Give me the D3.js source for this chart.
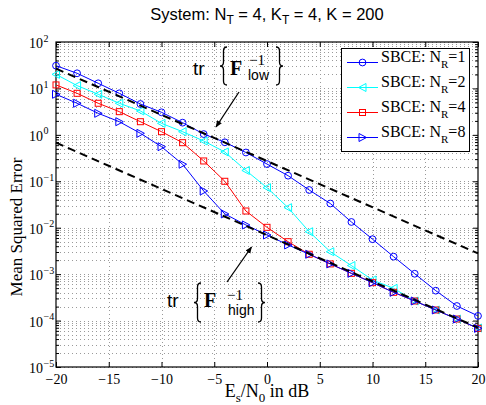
<!DOCTYPE html>
<html>
<head>
<meta charset="utf-8">
<script src="https://cdn.jsdelivr.net/npm/d3@7"></script>
<style>
body { margin: 0; background: #fff; }
svg { display: block; }
</style>
</head>
<body>
<svg id="chart"></svg>
<script>
// Es/N0 in dB
const snrDb = [-20, -18, -16, -14, -12, -10, -8, -6, -4, -2, 0, 2, 4, 6, 8, 10, 12, 14, 16, 18, 20];

// MSE per number of receive antennas
const mseNr1 = [30.9, 21.2, 12.9, 7.85, 4.62, 3.06, 1.83, 1.04, 0.692, 0.417, 0.235, 0.132, 0.0649, 0.0332, 0.0133, 0.00566, 0.00238, 0.00102, 0.00044, 0.000206, 0.000126];
const mseNr2 = [20.1, 11.5, 7.48, 4.79, 3.27, 1.77, 1.17, 0.738, 0.428, 0.171, 0.0728, 0.027, 0.0082, 0.00304, 0.00153, 0.000748, 0.000495, 0.000264, 0.000169, 0.000108, 0.000069];
const mseNr4 = [11.9, 7.85, 4.79, 3.16, 1.92, 1.17, 0.678, 0.274, 0.1, 0.0229, 0.0102, 0.005, 0.00268, 0.00166, 0.00104, 0.000655, 0.000406, 0.000264, 0.000169, 0.000108, 0.000068];
const mseNr8 = [7.48, 4.79, 2.91, 1.92, 1.08, 0.556, 0.233, 0.0618, 0.0198, 0.01146, 0.00697, 0.00425, 0.00268, 0.00166, 0.00104, 0.000655, 0.000406, 0.000264, 0.000169, 0.000108, 0.000068];

// bound lines (straight on this plot), end points only
const boundSnr = [-20, 20];
const boundLow = [26.7, 0.00279];
const boundHigh = [0.678, 0.0000706];

const xTicks = [-20, -15, -10, -5, 0, 5, 10, 15, 20];
const yTickExps = [-5, -4, -3, -2, -1, 0, 1, 2];
const legendNr = ["1", "2", "4", "8"];

const width = 486;
const height = 405;
const pLeft = 56, pRight = 478, pTop = 42, pBottom = 367;

const serif = "'Liberation Serif', 'Times New Roman', serif";
const sans = "'Liberation Sans', Arial, Helvetica, sans-serif";

let svg = d3.select("#chart")
    .attr("width", width)
    .attr("height", height);

const scX = d3.scaleLinear().domain([-20, 20]).range([pLeft, pRight]);
const scY = d3.scaleLog().domain([1e-5, 1e2]).range([pBottom, pTop]);

// grid
const grid = svg.append("g")
    .attr("stroke", "#9a9a9a")
    .attr("stroke-width", 1)
    .attr("stroke-dasharray", "1,3");

grid.selectAll(".hgrid")
    .data(scY.ticks())
    .enter().append("line")
    .attr("x1", pLeft).attr("x2", pRight)
    .attr("y1", d => Math.round(scY(d)) + 0.5)
    .attr("y2", d => Math.round(scY(d)) + 0.5);

grid.selectAll(".vgrid")
    .data(xTicks.slice(1, -1))
    .enter().append("line")
    .attr("y1", pTop).attr("y2", pBottom)
    .attr("x1", d => Math.round(scX(d)) + 0.5)
    .attr("x2", d => Math.round(scX(d)) + 0.5);

// axes, ticks pointing inward
function noDomain(g) { g.select(".domain").remove(); }

svg.append("g")
    .attr("transform", `translate(0, ${pBottom})`)
    .call(d3.axisBottom(scX).tickValues(xTicks).tickSize(-5).tickPadding(7))
    .call(noDomain)
    .call(g => g.selectAll("text").style("font", `14px ${serif}`).attr("fill", "#000"));

svg.append("g")
    .attr("transform", `translate(0, ${pTop})`)
    .call(d3.axisTop(scX).tickValues(xTicks).tickSize(-5).tickFormat(""))
    .call(noDomain);

const majorY = yTickExps.map(e => Math.pow(10, e));
const minorY = scY.ticks().filter(d => !majorY.some(m => Math.abs(m - d) / m < 1e-6));

svg.append("g")
    .attr("transform", `translate(${pLeft}, 0)`)
    .call(d3.axisLeft(scY).tickValues(majorY).tickSize(-5).tickFormat(""))
    .call(noDomain);
svg.append("g")
    .attr("transform", `translate(${pLeft}, 0)`)
    .call(d3.axisLeft(scY).tickValues(minorY).tickSize(-3).tickFormat(""))
    .call(noDomain);
svg.append("g")
    .attr("transform", `translate(${pRight}, 0)`)
    .call(d3.axisRight(scY).tickValues(majorY).tickSize(-5).tickFormat(""))
    .call(noDomain);
svg.append("g")
    .attr("transform", `translate(${pRight}, 0)`)
    .call(d3.axisRight(scY).tickValues(minorY).tickSize(-3).tickFormat(""))
    .call(noDomain);

// y tick labels 10^n
const yLab = svg.append("g").style("font-family", serif).attr("fill", "#000");
yTickExps.forEach(e => {
    let y = scY(Math.pow(10, e));
    yLab.append("text")
        .attr("x", 43).attr("y", y + 6)
        .attr("text-anchor", "end")
        .style("font-size", "14px")
        .text("10");
    yLab.append("text")
        .attr("x", 43.5).attr("y", y - 0.5)
        .style("font-size", "10px")
        .text(e < 0 ? "\u2212" + (-e) : String(e));
});

// box
svg.append("rect")
    .attr("x", pLeft).attr("y", pTop)
    .attr("width", pRight - pLeft).attr("height", pBottom - pTop)
    .attr("fill", "none")
    .attr("stroke", "#000")
    .attr("stroke-width", 1.2);

// markers
function marker(g, shape, x, y, color) {
    if (shape == "circle") {
        g.append("circle").attr("cx", x).attr("cy", y).attr("r", 3.4)
            .attr("fill", "none").attr("stroke", color);
    } else if (shape == "square") {
        g.append("rect").attr("x", x - 3).attr("y", y - 3).attr("width", 6).attr("height", 6)
            .attr("fill", "none").attr("stroke", color);
    } else {
        let s = shape == "left" ? -1 : 1;
        g.append("path")
            .attr("d", `M${x + 4 * s},${y} L${x - 3.5 * s},${y - 4} L${x - 3.5 * s},${y + 4} Z`)
            .attr("fill", "none").attr("stroke", color);
    }
}

const series = [
    {nr: legendNr[0], values: mseNr1, color: "#0000ff", shape: "circle"},
    {nr: legendNr[1], values: mseNr2, color: "#00ffff", shape: "left"},
    {nr: legendNr[2], values: mseNr4, color: "#ff0000", shape: "square"},
    {nr: legendNr[3], values: mseNr8, color: "#0000ff", shape: "right"}
];

const line = d3.line().x(d => scX(d[0])).y(d => scY(d[1]));

series.forEach(s => {
    let pts = snrDb.map((x, i) => [x, s.values[i]]);
    let g = svg.append("g");
    g.append("path")
        .attr("d", line(pts))
        .attr("fill", "none")
        .attr("stroke", s.color)
        .attr("stroke-width", 1);
    pts.forEach(p => marker(g, s.shape, scX(p[0]), scY(p[1]), s.color));
});

[boundLow, boundHigh].forEach(b => {
    svg.append("path")
        .attr("d", line(boundSnr.map((x, i) => [x, b[i]])))
        .attr("fill", "none")
        .attr("stroke", "#000")
        .attr("stroke-width", 2)
        .attr("stroke-dasharray", "8,5");
});

// legend
const lg = svg.append("g");
lg.append("rect")
    .attr("x", 341.5).attr("y", 48.5).attr("width", 128).attr("height", 103)
    .attr("fill", "#fff").attr("stroke", "#000").attr("stroke-width", 1);
series.forEach((s, i) => {
    let y = 62.5 + i * 25;
    lg.append("line").attr("x1", 347).attr("x2", 378).attr("y1", y).attr("y2", y)
        .attr("stroke", s.color).attr("stroke-width", 1);
    marker(lg, s.shape, 362.5, y, s.color);
    let t = lg.append("text").attr("x", 381).attr("y", y - 1)
        .style("font", `16px ${serif}`).attr("fill", "#000");
    t.append("tspan").text("SBCE: N");
    t.append("tspan").attr("dy", 6).style("font-size", "11px").text("R");
    t.append("tspan").attr("dy", -6).text("=" + s.nr);
});

// title
const title = svg.append("text")
    .attr("x", (pLeft + pRight) / 2).attr("y", 20)
    .attr("text-anchor", "middle")
    .style("font", `16.5px ${sans}`).attr("fill", "#000");
title.append("tspan").text("System: N");
title.append("tspan").attr("dy", 4).style("font-size", "12px").text("T");
title.append("tspan").attr("dy", -4).text(" = 4, K");
title.append("tspan").attr("dy", 4).style("font-size", "12px").text("T");
title.append("tspan").attr("dy", -4).text(" = 4, K = 200");

// axis labels
const xl = svg.append("text")
    .attr("x", 267).attr("y", 397)
    .attr("text-anchor", "middle")
    .style("font", `18px ${serif}`).attr("fill", "#000");
xl.append("tspan").text("E");
xl.append("tspan").attr("dy", 5).style("font-size", "13px").text("s");
xl.append("tspan").attr("dy", -5).text("/N");
xl.append("tspan").attr("dy", 5).style("font-size", "13px").text("0");
xl.append("tspan").attr("dy", -5).text(" in dB");

svg.append("text")
    .attr("transform", "translate(22, 227) rotate(-90)")
    .attr("text-anchor", "middle")
    .style("font", `17px ${serif}`).attr("fill", "#000")
    .text("Mean Squared Error");

// annotations
function brace(x0, x1, y0, y1, dir) {
    let xm = (x0 + x1) / 2, ym = (y0 + y1) / 2, r = 4;
    let outer = dir < 0 ? x1 : x0, tip = dir < 0 ? x0 : x1;
    return `M${outer},${y0} Q${xm},${y0} ${xm},${y0 + r} L${xm},${ym - r} Q${xm},${ym} ${tip},${ym}` +
        ` Q${xm},${ym} ${xm},${ym + r} L${xm},${y1 - r} Q${xm},${y1} ${outer},${y1}`;
}

svg.append("defs").append("marker")
    .attr("id", "arrowhead")
    .attr("viewBox", "0 0 10 10")
    .attr("refX", 9).attr("refY", 5)
    .attr("markerWidth", 7).attr("markerHeight", 7)
    .attr("markerUnits", "userSpaceOnUse")
    .attr("orient", "auto")
    .append("path").attr("d", "M0,1 L10,5 L0,9 Z").attr("fill", "#000");

function annotation(a) {
    let g = svg.append("g").attr("fill", "#000");
    g.append("text").attr("x", a.trX).attr("y", a.base)
        .style("font", `19px ${sans}`).text("tr");
    g.append("path").attr("d", brace(a.bl, a.bl + 7, a.bt, a.bb, -1))
        .attr("fill", "none").attr("stroke", "#000").attr("stroke-width", 1.3);
    g.append("path").attr("d", brace(a.br, a.br + 7, a.bt, a.bb, 1))
        .attr("fill", "none").attr("stroke", "#000").attr("stroke-width", 1.3);
    g.append("text").attr("x", a.fX).attr("y", a.base)
        .style("font", `bold 20px ${serif}`).text("F");
    g.append("text").attr("x", a.supX).attr("y", a.supY)
        .style("font", `15px ${serif}`).text("\u22121");
    g.append("text").attr("x", a.subX).attr("y", a.subY)
        .style("font", `14px ${sans}`).text(a.sub);
    g.append("line")
        .attr("x1", a.arrow[0]).attr("y1", a.arrow[1])
        .attr("x2", a.arrow[2]).attr("y2", a.arrow[3])
        .attr("stroke", "#000").attr("stroke-width", 1.3)
        .attr("marker-end", "url(#arrowhead)");
}

annotation({trX: 193, base: 75, bl: 220, br: 276, bt: 47, bb: 85,
    fX: 230, supX: 249, supY: 65, subX: 248, subY: 79.5, sub: "low",
    arrow: [239, 92, 216, 127]});
annotation({trX: 167, base: 306.5, bl: 194, br: 258, bt: 283, bb: 322,
    fX: 204, supX: 227, supY: 299.5, subX: 228, subY: 315, sub: "high",
    arrow: [227, 282, 251.5, 247]});
</script>
</body>
</html>
